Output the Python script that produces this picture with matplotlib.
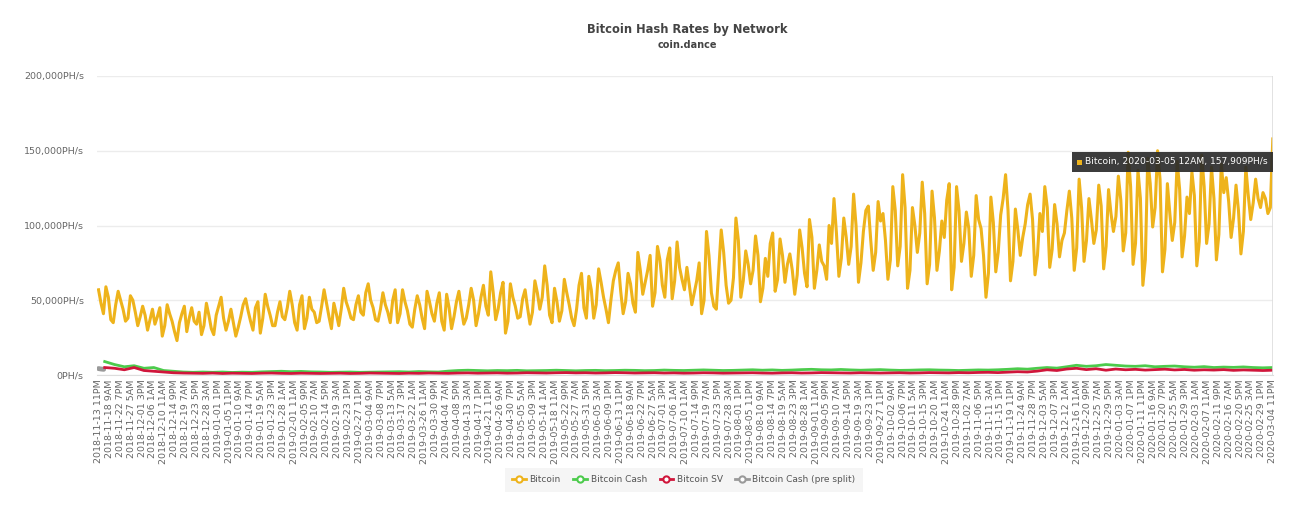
import numpy as np
import pandas as pd
import matplotlib
matplotlib.use("Agg")
import matplotlib.pyplot as plt
from matplotlib.lines import Line2D
from matplotlib.patches import Rectangle
from matplotlib.ticker import FuncFormatter

# --- data (values in thousands of PH/s) ---
start = pd.Timestamp("2018-11-13 23:00")
end = pd.Timestamp("2020-03-05 00:00")

bitcoin = [
    57, 48, 41, 59, 52, 37, 35, 47, 56, 50, 44, 36, 38, 53, 50, 42, 33, 39, 46, 40,
    30, 37, 44, 34, 39, 45, 26, 33, 47, 41, 36, 29, 23, 35, 41, 46, 29, 38, 45, 36,
    34, 42, 27, 33, 48, 40, 31, 27, 40, 46, 52, 38, 30, 36, 44, 35, 26, 32, 39, 47,
    51, 43, 36, 30, 45, 49, 28, 38, 54, 46, 40, 33, 33, 42, 49, 39, 37, 45, 56, 47,
    35, 30, 47, 53, 31, 38, 52, 44, 42, 35, 36, 46, 57, 48, 39, 31, 48, 41, 33, 44,
    58, 49, 44, 38, 37, 47, 53, 42, 40, 55, 61, 50, 45, 37, 36, 44, 55, 47, 42, 35,
    50, 57, 35, 41, 57, 49, 43, 34, 32, 44, 53, 47, 38, 31, 56, 49, 41, 36, 48, 55,
    36, 30, 54, 45, 31, 39, 49, 56, 44, 34, 38, 47, 58, 50, 33, 41, 52, 60, 46, 40,
    69, 55, 37, 44, 55, 62, 28, 36, 61, 52, 46, 38, 39, 51, 57, 45, 34, 42, 63, 55,
    44, 52, 73, 60, 40, 35, 58, 49, 36, 43, 64, 55, 47, 38, 33, 44, 60, 68, 45, 38,
    66, 57, 38, 47, 71, 62, 52, 44, 35, 50, 63, 70, 75, 56, 41, 49, 68, 61, 48, 42,
    82, 70, 54, 62, 70, 80, 46, 55, 86, 77, 60, 52, 77, 85, 51, 63, 89, 72, 64, 57,
    72, 60, 47, 55, 63, 75, 41, 50, 96, 80, 55, 46, 44, 70, 97, 82, 60, 48, 50, 65,
    105, 90, 52, 63, 83, 74, 61, 70, 93, 80, 49, 58, 78, 66, 88, 95, 56, 64, 91, 80,
    62, 74, 81, 70, 54, 67, 97, 85, 68, 59, 104, 92, 58, 70, 87, 76, 73, 64, 100, 88,
    118, 95, 66, 78, 105, 92, 74, 86, 121, 100, 62, 75, 96, 110, 113, 90, 70, 82, 116, 103,
    108, 90, 64, 77, 126, 110, 73, 86, 134, 112, 58, 70, 112, 100, 82, 95, 129, 108, 61, 74,
    123, 105, 70, 83, 103, 92, 117, 128, 57, 72, 126, 110, 76, 88, 109, 98, 66, 80, 120, 104,
    98, 80, 52, 68, 119, 102, 69, 82, 107, 118, 134, 110, 63, 76, 111, 97, 80, 92, 101, 114,
    121, 104, 67, 80, 108, 96, 126, 112, 72, 84, 114, 101, 79, 90, 95, 110, 123, 105, 70, 85,
    131, 112, 76, 90, 118, 104, 88, 97, 127, 113, 71, 86, 124, 108, 96, 106, 133, 117, 83, 95,
    149, 126, 74, 88, 137, 118, 60, 77, 145, 128, 99, 112, 150, 131, 69, 84, 128, 108, 90, 102,
    143, 124, 79, 93, 119, 108, 136, 120, 73, 89, 147, 126, 88, 101, 139, 118, 77, 94, 141, 122,
    132, 116, 92, 105, 127, 110, 81, 96, 139, 120, 104, 115, 131, 118, 112, 122, 118, 108, 112, 157.909,
]

bitcoin_cash = [
    9.0, 7.0, 5.5, 6.2, 4.5, 5.0, 3.0, 2.5, 2.0, 1.8,
    2.0, 1.8, 2.0, 1.7, 1.9, 1.8, 2.1, 2.3, 2.5, 2.2,
    2.4, 2.1, 2.0, 1.8, 1.9, 2.0, 1.8, 1.9, 2.0, 2.1,
    2.2, 2.0, 2.3, 2.1, 2.0, 2.6, 3.0, 3.2, 3.0, 2.8,
    3.0, 2.9, 3.1, 2.8, 2.9, 3.0, 3.2, 3.0, 2.8, 3.0,
    3.1, 2.9, 3.0, 3.2, 3.1, 2.9, 3.0, 3.3, 3.1, 3.0,
    3.2, 3.4, 3.2, 3.0, 3.1, 3.3, 3.5, 3.2, 3.4, 3.1,
    3.3, 3.6, 3.8, 3.5, 3.4, 3.7, 3.4, 3.2, 3.4, 3.6,
    3.3, 3.1, 3.2, 3.4, 3.5, 3.3, 3.2, 3.0, 3.2, 3.4,
    3.3, 3.5, 3.8, 4.2, 3.9, 4.5, 5.0, 4.6, 5.5, 6.5,
    5.8, 6.2, 7.0, 6.5, 6.0, 5.8, 6.2, 5.5, 5.8, 6.0,
    5.5, 5.2, 5.6, 5.0, 5.3, 5.1, 5.4, 5.0, 4.8, 5.0,
]

bitcoin_sv = [
    5.0, 4.5, 3.5, 5.0, 3.0, 2.5, 2.0, 1.5, 1.3, 1.2,
    1.1, 1.3, 1.0, 1.2, 1.1, 1.0, 1.2, 1.3, 1.1, 1.0,
    1.2, 1.1, 1.0, 1.1, 1.2, 1.0, 1.1, 1.3, 1.2, 1.1,
    1.0, 1.2, 1.1, 1.3, 1.2, 1.1, 1.3, 1.4, 1.2, 1.3,
    1.4, 1.2, 1.3, 1.5, 1.4, 1.3, 1.5, 1.6, 1.4, 1.5,
    1.3, 1.4, 1.6, 1.5, 1.3, 1.4, 1.5, 1.3, 1.4, 1.2,
    1.3, 1.5, 1.4, 1.2, 1.3, 1.4, 1.5, 1.3, 1.2, 1.4,
    1.5, 1.3, 1.4, 1.6, 1.5, 1.4, 1.3, 1.5, 1.4, 1.3,
    1.4, 1.5, 1.3, 1.4, 1.6, 1.5, 1.4, 1.6, 1.5, 1.7,
    1.8, 1.6, 1.9, 2.2, 2.0, 2.6, 3.5, 3.0, 4.0, 4.5,
    3.6, 4.2, 3.2, 4.0, 3.5, 3.8, 3.3, 3.6, 3.9, 3.4,
    3.7, 3.2, 3.5, 3.3, 3.6, 3.1, 3.4, 3.2, 3.0, 3.2,
]

bitcoin_cash_pre = [4.3, 4.0, 3.8]

colors = {
    "Bitcoin": "#EEB31B",
    "Bitcoin Cash": "#4CCB4C",
    "Bitcoin SV": "#D0163B",
    "Bitcoin Cash (pre split)": "#9A9A9A",
}

# x positions in hours since start
total_h = (end - start) / pd.Timedelta(hours=1)
x_btc = np.linspace(0, total_h, len(bitcoin))
x_bch = np.linspace(60, total_h, len(bitcoin_cash))
x_bsv = np.linspace(60, total_h, len(bitcoin_sv))
x_pre = np.linspace(0, 50, len(bitcoin_cash_pre))

tick_hours = np.arange(0, total_h, 106)
tick_times = [start + pd.Timedelta(hours=float(h)) for h in tick_hours]
tick_labels = [t.strftime("%Y-%m-%d ") + str(int(t.strftime("%I"))) + t.strftime("%p") for t in tick_times]

# --- plot ---
fig = plt.figure(figsize=(13, 5.3), dpi=100)
ax = fig.add_axes([97 / 1300, 1 - 375 / 530, (1273 - 97) / 1300, (375 - 76) / 530])

ax.plot(x_pre, np.array(bitcoin_cash_pre) * 1000, color=colors["Bitcoin Cash (pre split)"], lw=3.5, solid_capstyle="round")
ax.plot(x_bch, np.array(bitcoin_cash) * 1000, color=colors["Bitcoin Cash"], lw=2.0)
ax.plot(x_bsv, np.array(bitcoin_sv) * 1000, color=colors["Bitcoin SV"], lw=2.0)
ax.plot(x_btc, np.array(bitcoin) * 1000, color=colors["Bitcoin"], lw=2.2)

ax.set_xlim(-15, total_h + 2)
ax.set_ylim(0, 200000)
ax.set_yticks([0, 50000, 100000, 150000, 200000])
ax.yaxis.set_major_formatter(FuncFormatter(lambda v, p: f"{int(v):,}PH/s"))
ax.set_xticks(tick_hours)
ax.set_xticklabels(tick_labels, rotation=90, fontsize=6.8, color="#666666")
ax.tick_params(axis="y", length=0, labelsize=6.8, labelcolor="#666666", pad=9.5)
ax.tick_params(axis="x", length=0, pad=3)
ax.grid(axis="y", color="#ececec", lw=1)
ax.set_axisbelow(True)
for side in ["top", "right", "left"]:
    ax.spines[side].set_visible(False)
ax.spines["bottom"].set_color("#dddddd")

# hover crosshair + tooltip
ax.axvline(total_h, color="#dddddd", lw=1.2)
fig.add_artist(Rectangle((1072 / 1300, 1 - 172 / 530), 201 / 1300, 20 / 530, transform=fig.transFigure,
                         facecolor="#2b2b2b", edgecolor="none", alpha=0.92, zorder=5))
fig.text(1268 / 1300, 1 - 162 / 530, "Bitcoin, 2020-03-05 12AM, 157,909PH/s", ha="right", va="center",
         fontsize=6.6, color="white", zorder=6)
fig.add_artist(Rectangle((1077 / 1300, 1 - 164.5 / 530), 5 / 1300, 5 / 530, transform=fig.transFigure,
                         facecolor=colors["Bitcoin"], edgecolor="none", zorder=6))

fig.text(687 / 1300, 1 - 30 / 530, "Bitcoin Hash Rates by Network", ha="center", va="center",
         fontsize=8.3, fontweight="bold", color="#444444")
fig.text(687 / 1300, 1 - 45 / 530, "coin.dance", ha="center", va="center",
         fontsize=7, fontweight="bold", color="#444444")

handles = [Line2D([], [], color=c, lw=2, marker="o", markersize=4.5, markerfacecolor="white",
                  markeredgecolor=c, markeredgewidth=1.5) for c in colors.values()]
leg = fig.legend(handles, list(colors.keys()), loc="center", bbox_to_anchor=(684 / 1300, 1 - 480 / 530),
                 ncol=4, fontsize=6.5, frameon=True, fancybox=False, handlelength=1.5,
                 handletextpad=0.4, columnspacing=1.4, borderpad=0.8)
leg.get_frame().set_facecolor("#f3f3f3")
leg.get_frame().set_edgecolor("none")
for t in leg.get_texts():
    t.set_color("#555555")

fig.savefig("out.png", dpi=100)
